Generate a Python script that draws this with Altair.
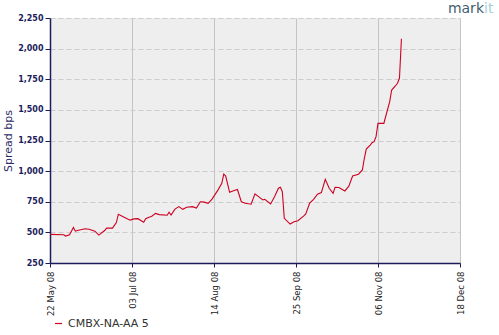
import altair as alt
import pandas as pd

dates = [
    "2008-05-22", "2008-05-29", "2008-05-30", "2008-06-01", "2008-06-03", "2008-06-04",
    "2008-06-05", "2008-06-09", "2008-06-11", "2008-06-14", "2008-06-16", "2008-06-19",
    "2008-06-20", "2008-06-23", "2008-06-25", "2008-06-26", "2008-06-29", "2008-07-02",
    "2008-07-04", "2008-07-06", "2008-07-09", "2008-07-10", "2008-07-12", "2008-07-13",
    "2008-07-15", "2008-07-17", "2008-07-21", "2008-07-22", "2008-07-23", "2008-07-25",
    "2008-07-27", "2008-07-29", "2008-07-31", "2008-08-03", "2008-08-05", "2008-08-07",
    "2008-08-09", "2008-08-11", "2008-08-13", "2008-08-16", "2008-08-18", "2008-08-19",
    "2008-08-20", "2008-08-22", "2008-08-24", "2008-08-26", "2008-08-28", "2008-08-30",
    "2008-09-02", "2008-09-04", "2008-09-06", "2008-09-08", "2008-09-09", "2008-09-12",
    "2008-09-14", "2008-09-15", "2008-09-16", "2008-09-17", "2008-09-18", "2008-09-19",
    "2008-09-22", "2008-09-24", "2008-09-26", "2008-09-29", "2008-09-30", "2008-10-02",
    "2008-10-04", "2008-10-06", "2008-10-08", "2008-10-10", "2008-10-12", "2008-10-14",
    "2008-10-15", "2008-10-17", "2008-10-20", "2008-10-22", "2008-10-24", "2008-10-27",
    "2008-10-29", "2008-10-30", "2008-10-31", "2008-11-02", "2008-11-03", "2008-11-04",
    "2008-11-05", "2008-11-06", "2008-11-09", "2008-11-10", "2008-11-12", "2008-11-13",
    "2008-11-15", "2008-11-16", "2008-11-17", "2008-11-18",
]
spread = [
    484, 480, 470, 480, 540, 510,
    515, 530, 525, 510, 478, 515,
    535, 535, 580, 648, 623, 600,
    610, 612, 583, 612, 625, 630,
    655, 645, 640, 664, 642, 690,
    710, 688, 705, 710, 698, 750,
    747, 737, 772, 845, 900, 975,
    960, 827, 840, 850, 750, 738,
    730, 815, 790, 765, 770, 732,
    790, 825, 860, 868, 832, 615,
    568, 587, 595, 634, 650, 740,
    770, 812, 825, 933, 860, 818,
    868, 866, 838, 875, 960, 975,
    1010, 1105, 1180, 1213, 1232, 1240,
    1281, 1390, 1390, 1450, 1567, 1662,
    1697, 1717, 1760, 2080,
]
series_name = "CMBX-NA-AA 5"
x_ticks = ["2008-05-22", "2008-07-03", "2008-08-14", "2008-09-25", "2008-11-06", "2008-12-18"]
y_ticks = [250, 500, 750, 1000, 1250, 1500, 1750, 2000, 2250]

df = pd.DataFrame({"date": pd.to_datetime(dates), "spread": spread, "series": series_name})

navy = "#1c1c5c"

x_enc = alt.X(
    "date:T",
    scale=alt.Scale(domain=[x_ticks[0], x_ticks[-1]], nice=False),
    axis=alt.Axis(
        values=[pd.Timestamp(d).isoformat() for d in x_ticks],
        format="%d %b %y",
        labelAngle=-90,
        labelAlign="right",
        labelBaseline="middle",
        labelFont="DejaVu Sans",
        labelFontSize=8.5,
        labelColor="#222222",
        labelPadding=4,
        tickSize=4,
        tickColor=navy,
        domainColor=navy,
        domainWidth=1.5,
        gridColor="#c4c4c4",
        gridWidth=1,
        title=None,
        labelOverlap=False,
    ),
)
y_enc = alt.Y(
    "spread:Q",
    scale=alt.Scale(domain=[250, 2250], nice=False, zero=False),
    axis=alt.Axis(
        values=y_ticks,
        format=",.0f",
        labelFont="DejaVu Sans",
        labelFontSize=8,
        labelFontWeight="bold",
        labelColor=navy,
        labelPadding=2,
        tickSize=5,
        tickColor=navy,
        domainColor=navy,
        domainWidth=1.5,
        gridColor="#cccccc",
        gridDash=[5, 3],
        title="Spread bps",
        titleFont="DejaVu Sans",
        titleFontSize=11,
        titleFontWeight="normal",
        titleColor="#2a2a66",
        titlePadding=4,
    ),
)

line = alt.Chart(df).mark_line(strokeWidth=1.1, interpolate="linear").encode(
    x=x_enc,
    y=y_enc,
    color=alt.Color(
        "series:N",
        scale=alt.Scale(domain=[series_name], range=["#cc0022"]),
        legend=alt.Legend(
            orient="none",
            legendX=3,
            legendY=300,
            title=None,
            symbolType="stroke",
            symbolSize=50,
            symbolStrokeWidth=1.2,
            labelFont="DejaVu Sans",
            labelFontSize=11,
            labelColor="#333333",
        ),
    ),
)

logo1 = alt.Chart(pd.DataFrame({"t": ["mark"]})).mark_text(
    font="DejaVu Sans", fontSize=14, color="#3f5f70", align="right", baseline="alphabetic"
).encode(text="t:N", x=alt.value(434), y=alt.value(-5))
logo2 = alt.Chart(pd.DataFrame({"t": ["it"]})).mark_text(
    font="DejaVu Sans", fontSize=14, color="#a8d0d8", align="left", baseline="alphabetic"
).encode(text="t:N", x=alt.value(434), y=alt.value(-5))

chart = alt.layer(line, logo1, logo2).properties(
    width=410,
    height=245,
    padding={"left": 50, "top": 18, "right": 39, "bottom": 72},
    autosize=alt.AutoSizeParams(type="none"),
    background="white",
).configure_view(fill="#eeeeee", stroke=None)

chart.save("out.html", embed_options={"renderer": "svg", "actions": False})
